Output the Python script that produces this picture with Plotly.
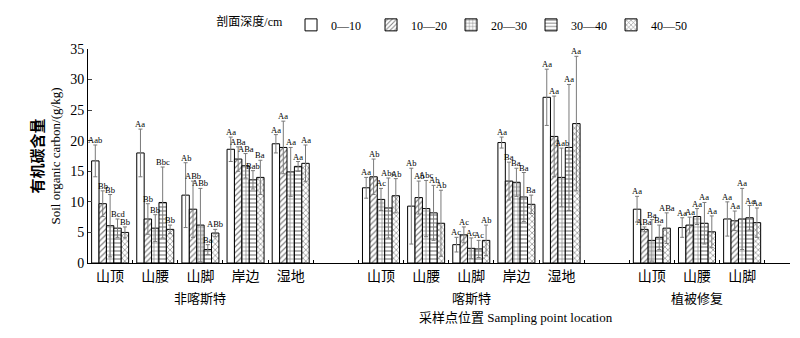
import plotly.graph_objects as go

groups = ["非喀斯特", "喀斯特", "植被修复"]
group_sites = [["山顶", "山腰", "山脚", "岸边", "湿地"],
               ["山顶", "山腰", "山脚", "岸边", "湿地"],
               ["山顶", "山腰", "山脚"]]
depths = ["0—10", "10—20", "20—30", "30—40", "40—50"]

d0 = [16.7, 18.0, 11.1, 18.6, 19.5, 12.3, 9.3, 3.0, 19.7, 27.1, 8.8, 5.8, 7.2]
e0 = [2.6, 3.9, 5.3, 2.0, 1.5, 1.7, 6.2, 1.2, 0.9, 4.6, 2.1, 1.6, 2.8]
d1 = [9.7, 7.2, 8.8, 17.0, 18.9, 14.1, 10.7, 4.6, 13.4, 20.7, 5.5, 6.2, 6.9]
e1 = [2.1, 2.5, 4.6, 2.0, 4.3, 2.9, 2.7, 1.3, 3.1, 6.6, 0.4, 1.3, 1.6]
d2 = [6.1, 5.7, 6.2, 15.9, 14.9, 10.4, 8.9, 2.4, 13.2, 14.0, 3.7, 7.6, 7.2]
e2 = [5.1, 2.2, 6.0, 2.0, 4.0, 1.8, 4.6, 1.7, 2.3, 4.8, 3.4, 1.3, 5.0]
d3 = [5.7, 9.9, 2.2, 13.6, 15.8, 9.0, 8.2, 2.3, 10.8, 18.9, 4.2, 6.5, 7.4]
e3 = [1.5, 5.8, 0.8, 1.5, 0.8, 4.9, 4.5, 1.4, 4.0, 10.3, 2.0, 3.4, 2.0]
d4 = [5.0, 5.5, 4.9, 14.0, 16.3, 11.0, 6.5, 3.7, 9.6, 22.8, 5.7, 5.1, 6.6]
e4 = [0.9, 0.7, 0.6, 2.8, 3.0, 2.8, 5.4, 2.5, 1.5, 11.0, 2.5, 2.6, 2.4]

l0 = ["Aab", "Aa", "Ab", "Aa", "Aa", "Aa", "Ab", "Ac", "Aa", "Aa", "Aa", "Aa", "Aa"]
l1 = ["Bb", "Bb", "ABb", "ABa", "Aa", "Ab", "Ab", "Ac", "Ba", "Aa", "ABa", "Aa", "Aa"]
l2 = ["Bb", "Bb", "ABb", "ABa", "Aa", "Ac", "Abc", "Ac", "Ba", "Aab", "Ba", "Aa", "Aa"]
l3 = ["Bcd", "Bbc", "Ba", "Bab", "Aa", "Abc", "Ab", "Ac", "Ba", "Aa", "Ba", "Aa", "Aa"]
l4 = ["Bb", "Bb", "ABb", "Ba", "Aa", "Ab", "Ab", "Ab", "Ba", "Aa", "ABa", "Aa", "Aa"]

values = [d0, d1, d2, d3, d4]
errors = [e0, e1, e2, e3, e4]
letters = [l0, l1, l2, l3, l4]
shapes = ["", "/", "+", "-", "x"]

FONT = "Liberation Serif, 'Times New Roman', 'Noto Sans CJK SC', serif"

# slot positions: one empty slot between groups
slots, site_labels, group_centers = [], [], []
pos = 0
for g, sites in zip(groups, group_sites):
    start = pos
    for s in sites:
        slots.append(pos)
        site_labels.append(s)
        pos += 1
    group_centers.append((start + pos - 1) / 2)
    pos += 1

bargap = 0.18
w = (1 - bargap) / len(depths)

fig = go.Figure()
annotations = []
for i, (name, v, e, lab, sh) in enumerate(zip(depths, values, errors, letters, shapes)):
    off = -(1 - bargap) / 2 + w * i
    fig.add_trace(go.Bar(
        x=slots, y=v, name=name, width=w, offset=off,
        marker=dict(color="white", line=dict(color="black", width=1),
                    pattern=dict(shape=sh, fgcolor="black", size=4, solidity=0.3,
                                 fillmode="overlay")),
        error_y=dict(type="data", array=e, visible=True, color="#7a7a7a",
                     thickness=1, width=2),
    ))
    for xs, vv, ee, tt in zip(slots, v, e, lab):
        annotations.append(dict(x=xs + off + w / 2, y=vv + ee, text=tt, showarrow=False,
                                yanchor="bottom", yshift=-2, xref="x", yref="y",
                                font=dict(family=FONT, size=8.5, color="#000000")))

for g, c in zip(groups, group_centers):
    annotations.append(dict(x=c, y=0, xref="x", yref="paper", text=g, showarrow=False,
                            yanchor="middle", yshift=-35,
                            font=dict(family=FONT, size=13, color="black")))
annotations.append(dict(x=9.0, y=0, xref="x", yref="paper",
                        text="采样点位置 Sampling point location", showarrow=False,
                        yanchor="middle", yshift=-54,
                        font=dict(family=FONT, size=13, color="black")))

fig.update_layout(
    width=800, height=338,
    margin=dict(l=88, r=10, t=37, b=75),
    paper_bgcolor="white", plot_bgcolor="white",
    barmode="group", bargap=bargap, bargroupgap=0,
    font=dict(family=FONT, size=13, color="black"),
    showlegend=True,
    legend=dict(orientation="h", x=0.18, y=1.045, xanchor="left", yanchor="bottom",
                title=dict(text="剖面深度/cm", side="left", font=dict(family=FONT, size=12)),
                font=dict(family=FONT, size=12), traceorder="normal",
                itemwidth=30, entrywidth=35, tracegroupgap=0, borderwidth=0),
    annotations=annotations,
)
fig.update_yaxes(range=[0, 35], dtick=5, ticks="inside", ticklen=4, showline=True,
                 linecolor="black", linewidth=1, showgrid=False, zeroline=False,
                 tickfont=dict(family=FONT, size=14),
                 title=dict(text="<b><span style='font-size:15px'>有机碳含量</span></b><br>Soil organic carbon/(g/kg)",
                            font=dict(family=FONT, size=13), standoff=6))
fig.update_xaxes(range=[-0.49, 15.06], tickmode="array", tickvals=slots, ticktext=site_labels,
                 showline=True, linecolor="black", linewidth=1, showgrid=False,
                 zeroline=False, ticks="", tickfont=dict(family=FONT, size=14),
                 minor=dict(ticks="inside", tick0=0.5, dtick=1, ticklen=3, tickcolor="black"))

fig.write_html("out.html")
